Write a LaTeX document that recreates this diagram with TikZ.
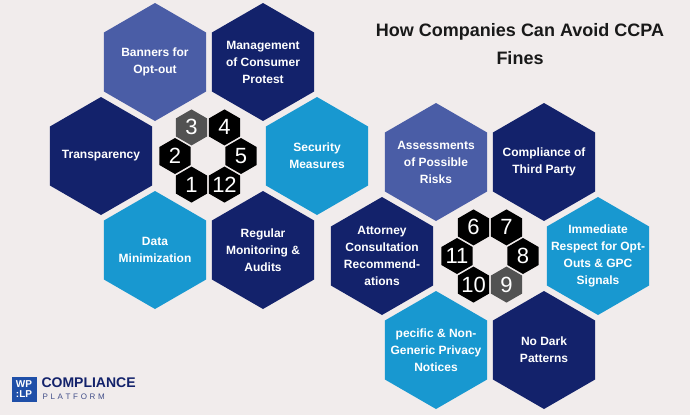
\documentclass[tikz,border=0pt]{standalone}
\usepackage{fontspec}
\setmainfont{Liberation Sans}
\usetikzlibrary{shapes.geometric,calc}
\definecolor{bgc}{HTML}{F1ECEC}
\definecolor{slate}{HTML}{4A5DA6}
\definecolor{navy}{HTML}{13226B}
\definecolor{cyanb}{HTML}{1898D0}
\definecolor{logoblue}{HTML}{1F4FA8}
\tikzset{
  bighex/.style={regular polygon, regular polygon sides=6, shape border rotate=30, minimum size=118pt, inner sep=0pt},
  hextext/.style={text=white, font=\bfseries\fontsize{12}{17}\selectfont, align=center},
  smallhex/.style={regular polygon, regular polygon sides=6, shape border rotate=30, minimum size=36pt, inner sep=0pt, fill=black},
  numtext/.style={text=white, font=\fontsize{22}{22}\selectfont},
}
% center, gray number, then numbers at 0,60,120,180,240,300 deg
\newcommand{\numring}[8]{%
  \foreach \n/\a in {#3/0,#4/60,#5/120,#6/180,#7/240,#8/300}{
    \ifnum\n=#2 \def\hexfill{black!68}\else\def\hexfill{black}\fi
    \node[smallhex, fill=\hexfill, label={[numtext]center:\n}] (num\n) at ($(#1)+(\a:33pt)$) {};
  }
}
\begin{document}
\begin{tikzpicture}[x=1pt,y=-1pt]
	\fill[bgc] (0,0) rectangle (690,415);
	\useasboundingbox (0,0) rectangle (690,415);

	% left cluster
	\node[bighex, fill=slate, label={[hextext]center:Banners for\\Opt-out}](banners) at (155,62){};
	\node[bighex, fill=navy, label={[hextext]center:Management\\of Consumer\\Protest}](protest) at (263,62){};
	\node[bighex, fill=navy, label={[hextext]center:Transparency}](transp) at (101,156){};
	\node[bighex, fill=cyanb, label={[hextext]center:Security\\Measures}](security) at (317,156){};
	\node[bighex, fill=cyanb, label={[hextext]center:Data\\Minimization}](datamin) at (155,250){};
	\node[bighex, fill=navy, label={[hextext]center:Regular\\Monitoring \&\\Audits}](audits) at (263,250){};

	\coordinate (ringA) at (208,156);
	\numring{ringA}{3}{5}{4}{3}{2}{1}{12}

	% right cluster
	\node[bighex, fill=slate, label={[hextext]center:Assessments\\of Possible\\Risks}](risks) at (436,162){};
	\node[bighex, fill=navy, label={[hextext]center:Compliance of\\Third Party}](thirdparty) at (544,162){};
	\node[bighex, fill=navy, label={[hextext]center:Attorney\\Consultation\\Recommend-\\ations}](attorney) at (382,256){};
	\node[bighex, fill=cyanb, label={[hextext]center:Immediate\\Respect for Opt-\\Outs \& GPC\\Signals}](optouts) at (598,256){};
	\node[bighex, fill=cyanb, label={[hextext]center:pecific \& Non-\\Generic Privacy\\Notices}](notices) at (436,350){};
	\node[bighex, fill=navy, label={[hextext]center:No Dark\\Patterns}](darkpat) at (544,350){};

	\coordinate (ringB) at (490,256);
	\numring{ringB}{9}{8}{7}{6}{11}{10}{9}

	% title
	\node[font=\bfseries\fontsize{18}{28}\selectfont, align=center, text=black!90](title) at (520,44){How Companies Can Avoid CCPA\\Fines};

	% logo
	\node[fill=logoblue, text=white, minimum size=25pt, inner sep=0pt, font=\bfseries\fontsize{10}{10}\selectfont, align=center](logo) at (24,389){WP\\:LP};
	\node[anchor=west, font=\bfseries\fontsize{14}{14}\selectfont, text=navy](brand) at (38,383){COMPLIANCE};
	\node[anchor=west, font=\fontsize{8}{8}\selectfont, text=navy!80](brand2) at (39,397){P\,\,L\,\,A\,\,T\,\,F\,\,O\,\,R\,\,M};
\end{tikzpicture}
\end{document}
